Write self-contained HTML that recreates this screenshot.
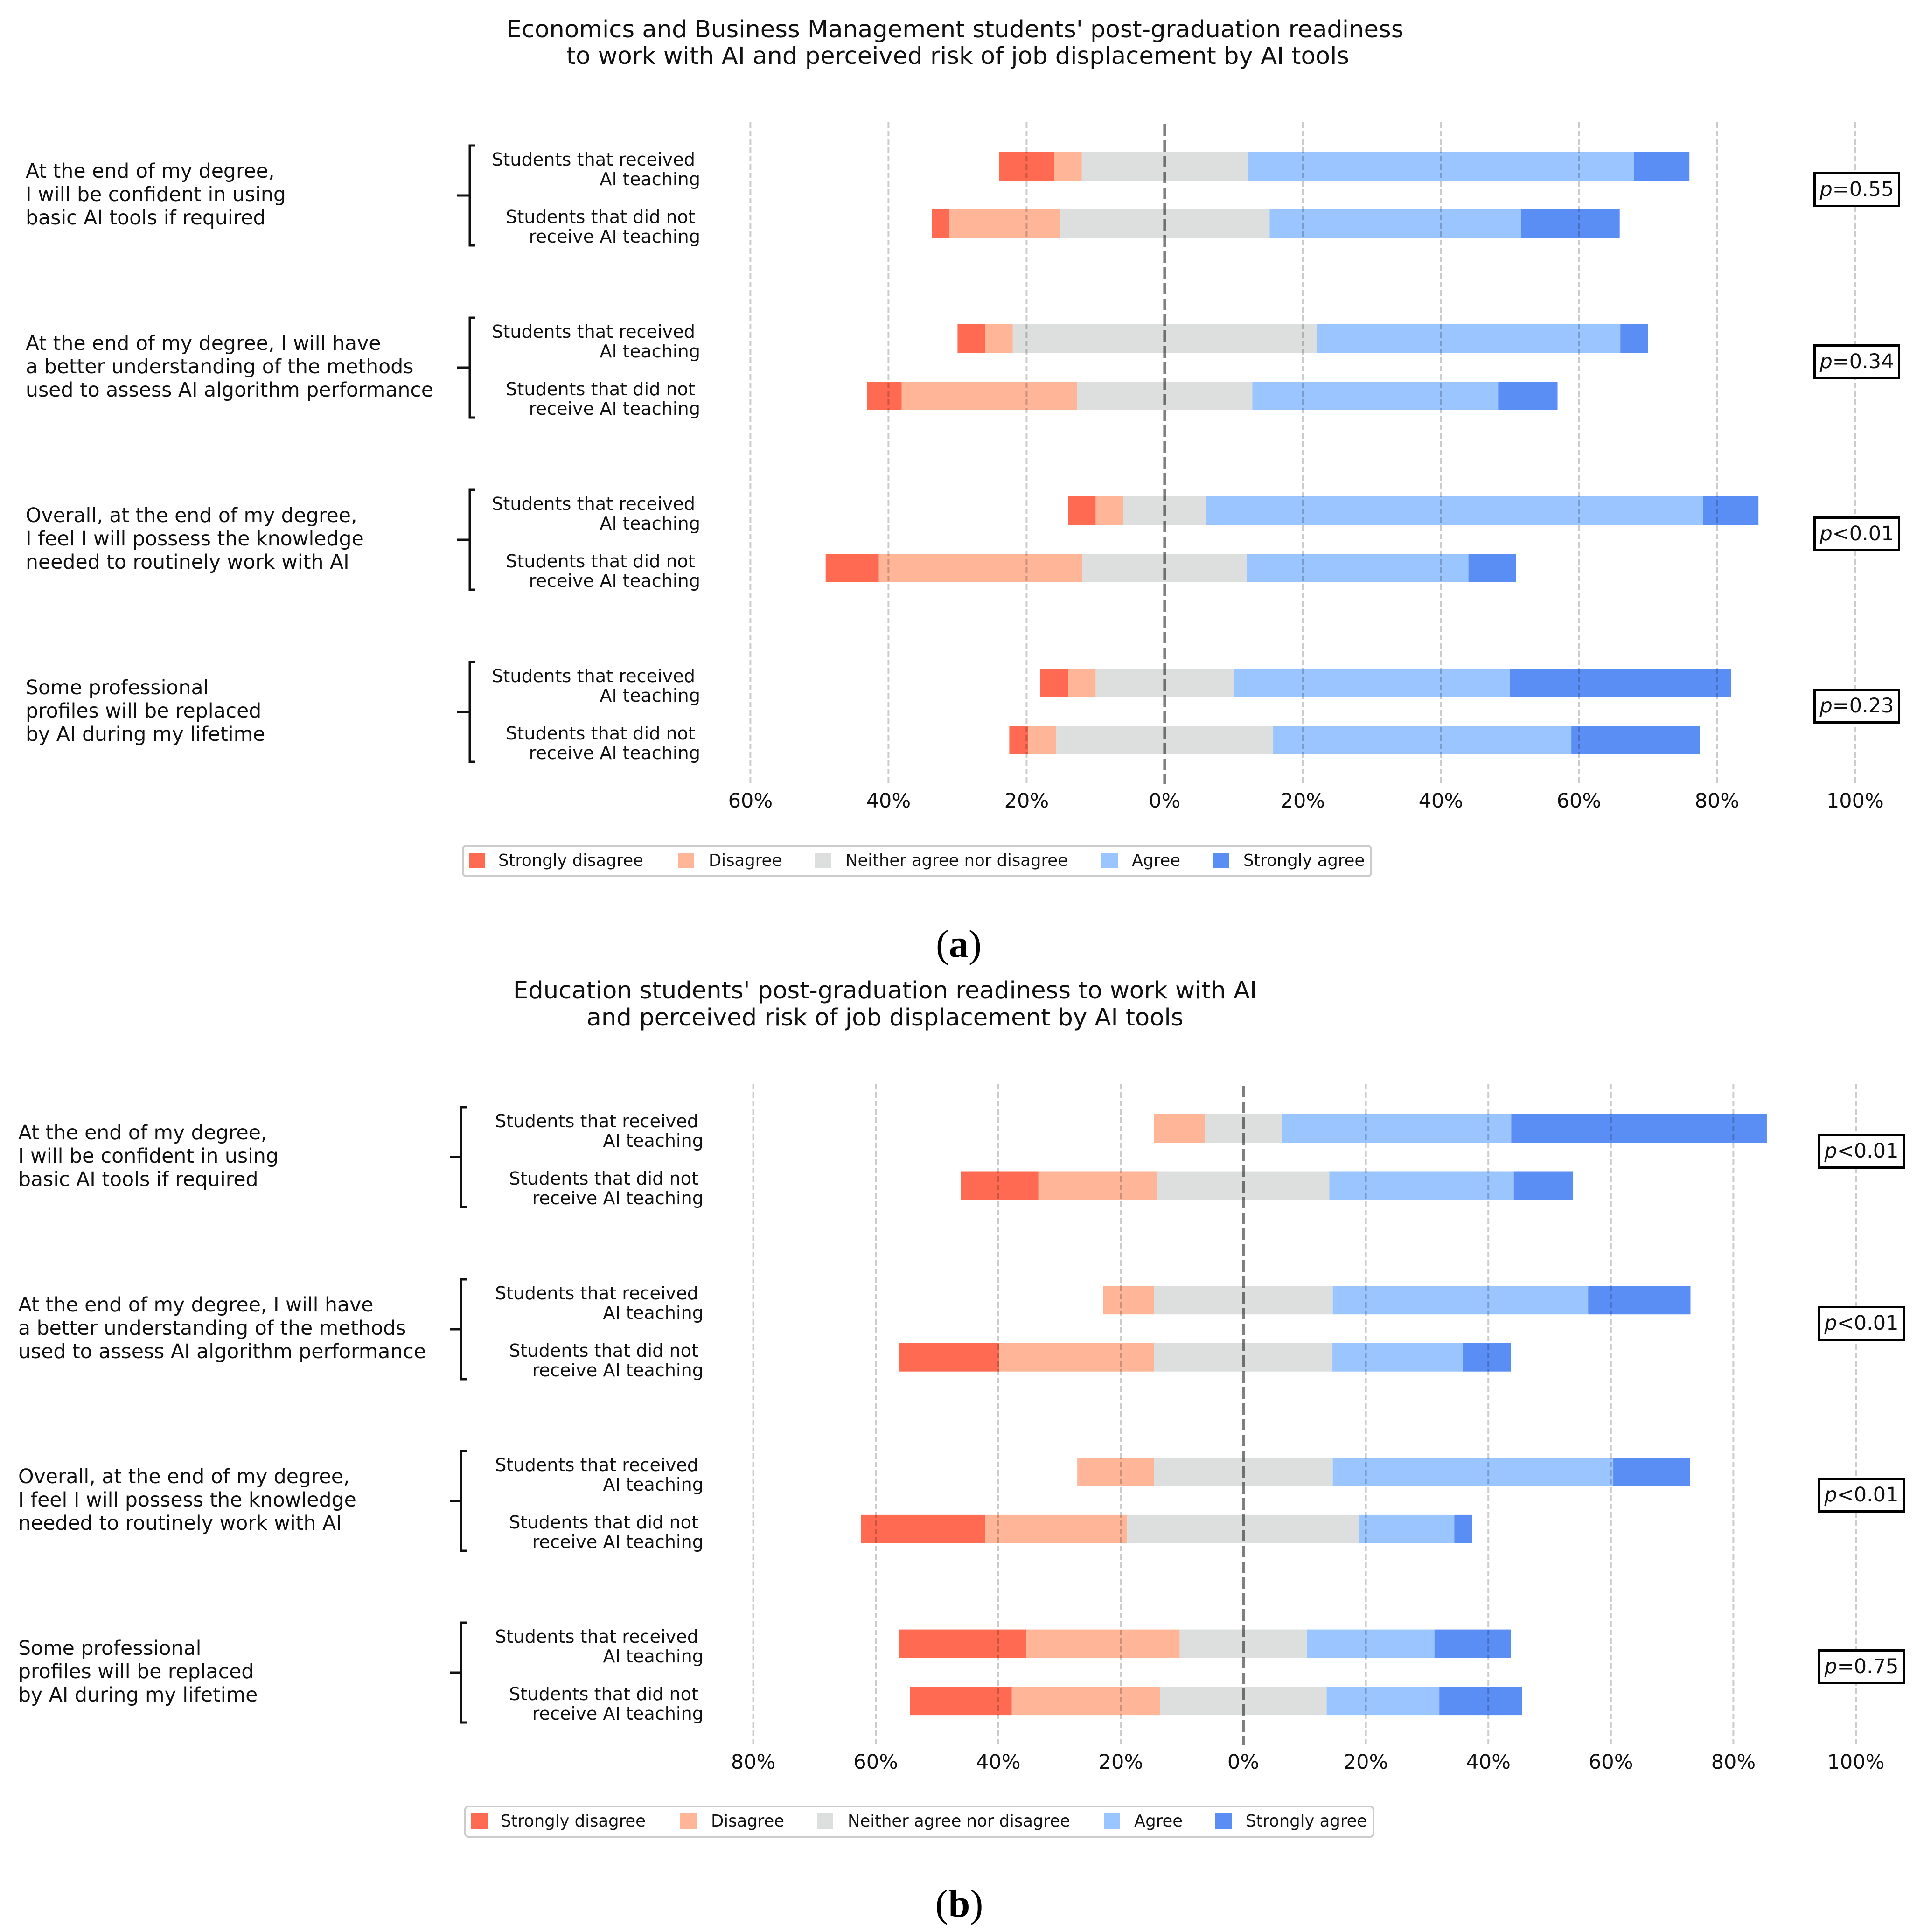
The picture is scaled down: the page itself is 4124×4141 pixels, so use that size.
<!DOCTYPE html>
<html lang="en">
<head>
<meta charset="utf-8">
<title>Post-graduation readiness to work with AI</title>
<style>
html,body{margin:0;padding:0;background:#fff}
svg{display:block}
text{font-family:"DejaVu Sans","Liberation Sans",sans-serif;fill:#111}
.q{font-size:42.6px}
.s{font-size:38.2px;text-anchor:end}
.t{font-size:51.2px;text-anchor:middle}
.l{font-size:35.4px}
.p{font-size:43px;text-anchor:middle}
.c{font-family:"Liberation Serif",serif;font-size:84px;text-anchor:middle;fill:#000}
.box{fill:#fff;stroke:#000;stroke-width:5}
.br{fill:none;stroke:#111;stroke-width:5}
.leg{fill:#fff;stroke:#ccc;stroke-width:4}
</style>
</head>
<body>
<svg xmlns="http://www.w3.org/2000/svg" width="4124" height="4141" viewBox="0 0 4124 4141">
<rect width="4124" height="4141" fill="#fff"/>

<!-- PANEL A -->
<g>
<text class="t" x="2047" y="80">Economics and Business Management students' post-graduation readiness</text>
<text class="t" x="2053" y="137">to work with AI and perceived risk of job displacement by AI tools</text>
<g id="plot-a"></g>
<g>
<text class="q" x="55" y="381">At the end of my degree,</text>
<text class="q" x="55" y="431">I will be confident in using</text>
<text class="q" x="55" y="481">basic AI tools if required</text>
<path class="br" d="M1019 312H1007V526H1019M980 419H1007"/>
<text class="s" x="1490" y="355">Students that received</text>
<text class="s" x="1501" y="397">AI teaching</text>
<text class="s" x="1490" y="478">Students that did not</text>
<text class="s" x="1501" y="520">receive AI teaching</text>
<rect class="box" x="3889.5" y="371.5" width="181" height="70"/>
<text class="p" x="3980" y="420"><tspan font-style="italic">p</tspan>=0.55</text>
</g>
<g transform="translate(0,369)">
<text class="q" x="55" y="381">At the end of my degree, I will have</text>
<text class="q" x="55" y="431">a better understanding of the methods</text>
<text class="q" x="55" y="481">used to assess AI algorithm performance</text>
<path class="br" d="M1019 312H1007V526H1019M980 419H1007"/>
<text class="s" x="1490" y="355">Students that received</text>
<text class="s" x="1501" y="397">AI teaching</text>
<text class="s" x="1490" y="478">Students that did not</text>
<text class="s" x="1501" y="520">receive AI teaching</text>
<rect class="box" x="3889.5" y="371.5" width="181" height="70"/>
<text class="p" x="3980" y="420"><tspan font-style="italic">p</tspan>=0.34</text>
</g>
<g transform="translate(0,738)">
<text class="q" x="55" y="381">Overall, at the end of my degree,</text>
<text class="q" x="55" y="431">I feel I will possess the knowledge</text>
<text class="q" x="55" y="481">needed to routinely work with AI</text>
<path class="br" d="M1019 312H1007V526H1019M980 419H1007"/>
<text class="s" x="1490" y="355">Students that received</text>
<text class="s" x="1501" y="397">AI teaching</text>
<text class="s" x="1490" y="478">Students that did not</text>
<text class="s" x="1501" y="520">receive AI teaching</text>
<rect class="box" x="3889.5" y="371.5" width="181" height="70"/>
<text class="p" x="3980" y="420"><tspan font-style="italic">p</tspan>&lt;0.01</text>
</g>
<g transform="translate(0,1107)">
<text class="q" x="55" y="381">Some professional</text>
<text class="q" x="55" y="431">profiles will be replaced</text>
<text class="q" x="55" y="481">by AI during my lifetime</text>
<path class="br" d="M1019 312H1007V526H1019M980 419H1007"/>
<text class="s" x="1490" y="355">Students that received</text>
<text class="s" x="1501" y="397">AI teaching</text>
<text class="s" x="1490" y="478">Students that did not</text>
<text class="s" x="1501" y="520">receive AI teaching</text>
<rect class="box" x="3889.5" y="371.5" width="181" height="70"/>
<text class="p" x="3980" y="420"><tspan font-style="italic">p</tspan>=0.23</text>
</g>
<g>
<rect class="leg" x="992" y="1813" width="1947" height="65" rx="7"/>
<rect x="1005" y="1828" width="35" height="33" fill="#ff6b52"/>
<text class="l" x="1068" y="1856">Strongly disagree</text>
<rect x="1453" y="1828" width="35" height="33" fill="#ffb598"/>
<text class="l" x="1519" y="1856">Disagree</text>
<rect x="1746" y="1828" width="35" height="33" fill="#dcdfde"/>
<text class="l" x="1812" y="1856">Neither agree nor disagree</text>
<rect x="2361" y="1828" width="35" height="33" fill="#9ac5ff"/>
<text class="l" x="2426" y="1856">Agree</text>
<rect x="2600" y="1828" width="35" height="33" fill="#5a8ef5"/>
<text class="l" x="2665" y="1856">Strongly agree</text>
</g>
<text class="c" x="2055" y="2051">(<tspan font-weight="bold">a</tspan>)</text>
</g>

<!-- PANEL B -->
<g>
<text class="t" x="1897" y="2140">Education students' post-graduation readiness to work with AI</text>
<text class="t" x="1897" y="2198">and perceived risk of job displacement by AI tools</text>
<g id="plot-b"></g>
<g transform="translate(0,2061)">
<text class="q" x="39" y="381">At the end of my degree,</text>
<text class="q" x="39" y="431">I will be confident in using</text>
<text class="q" x="39" y="481">basic AI tools if required</text>
<path class="br" d="M1000 312H988V526H1000M964 419H988"/>
<text class="s" x="1497" y="355">Students that received</text>
<text class="s" x="1508" y="397">AI teaching</text>
<text class="s" x="1497" y="478">Students that did not</text>
<text class="s" x="1508" y="520">receive AI teaching</text>
<rect class="box" x="3899.5" y="371.5" width="181" height="70"/>
<text class="p" x="3990" y="420"><tspan font-style="italic">p</tspan>&lt;0.01</text>
</g>
<g transform="translate(0,2430)">
<text class="q" x="39" y="381">At the end of my degree, I will have</text>
<text class="q" x="39" y="431">a better understanding of the methods</text>
<text class="q" x="39" y="481">used to assess AI algorithm performance</text>
<path class="br" d="M1000 312H988V526H1000M964 419H988"/>
<text class="s" x="1497" y="355">Students that received</text>
<text class="s" x="1508" y="397">AI teaching</text>
<text class="s" x="1497" y="478">Students that did not</text>
<text class="s" x="1508" y="520">receive AI teaching</text>
<rect class="box" x="3899.5" y="371.5" width="181" height="70"/>
<text class="p" x="3990" y="420"><tspan font-style="italic">p</tspan>&lt;0.01</text>
</g>
<g transform="translate(0,2798)">
<text class="q" x="39" y="381">Overall, at the end of my degree,</text>
<text class="q" x="39" y="431">I feel I will possess the knowledge</text>
<text class="q" x="39" y="481">needed to routinely work with AI</text>
<path class="br" d="M1000 312H988V526H1000M964 419H988"/>
<text class="s" x="1497" y="355">Students that received</text>
<text class="s" x="1508" y="397">AI teaching</text>
<text class="s" x="1497" y="478">Students that did not</text>
<text class="s" x="1508" y="520">receive AI teaching</text>
<rect class="box" x="3899.5" y="371.5" width="181" height="70"/>
<text class="p" x="3990" y="420"><tspan font-style="italic">p</tspan>&lt;0.01</text>
</g>
<g transform="translate(0,3166)">
<text class="q" x="39" y="381">Some professional</text>
<text class="q" x="39" y="431">profiles will be replaced</text>
<text class="q" x="39" y="481">by AI during my lifetime</text>
<path class="br" d="M1000 312H988V526H1000M964 419H988"/>
<text class="s" x="1497" y="355">Students that received</text>
<text class="s" x="1508" y="397">AI teaching</text>
<text class="s" x="1497" y="478">Students that did not</text>
<text class="s" x="1508" y="520">receive AI teaching</text>
<rect class="box" x="3899.5" y="371.5" width="181" height="70"/>
<text class="p" x="3990" y="420"><tspan font-style="italic">p</tspan>=0.75</text>
</g>
<g transform="translate(5,2059)">
<rect class="leg" x="992" y="1813" width="1947" height="65" rx="7"/>
<rect x="1005" y="1828" width="35" height="33" fill="#ff6b52"/>
<text class="l" x="1068" y="1856">Strongly disagree</text>
<rect x="1453" y="1828" width="35" height="33" fill="#ffb598"/>
<text class="l" x="1519" y="1856">Disagree</text>
<rect x="1746" y="1828" width="35" height="33" fill="#dcdfde"/>
<text class="l" x="1812" y="1856">Neither agree nor disagree</text>
<rect x="2361" y="1828" width="35" height="33" fill="#9ac5ff"/>
<text class="l" x="2426" y="1856">Agree</text>
<rect x="2600" y="1828" width="35" height="33" fill="#5a8ef5"/>
<text class="l" x="2665" y="1856">Strongly agree</text>
</g>
<text class="c" x="2056" y="4108">(<tspan font-weight="bold">b</tspan>)</text>
</g>
</svg>
<script>
// Panel (a) values, percent of respondents; rows run top to bottom
const stronglyDisagreeA = [8, 2.5, 4, 5, 4, 7.7, 4, 2.7];
const disagreeA = [4, 16, 4, 25.4, 4, 29.5, 4, 4.1];
const neutralA = [24, 30.4, 44, 25.4, 12, 23.8, 20, 31.4];
const agreeA = [56, 36.4, 44, 35.6, 72, 32.1, 40, 43.2];
const stronglyAgreeA = [8, 14.3, 4, 8.6, 8, 6.9, 32, 18.6];
const ticksA = [-60, -40, -20, 0, 20, 40, 60, 80, 100];

// Panel (b) values
const stronglyDisagreeB = [0, 12.7, 0, 16.4, 0, 20.3, 20.8, 16.6];
const disagreeB = [8.3, 19.4, 8.3, 25.3, 12.5, 23.2, 25, 24.2];
const neutralB = [12.5, 28.1, 29.2, 29.1, 29.2, 37.9, 20.8, 27.2];
const agreeB = [37.5, 30.1, 41.7, 21.3, 45.8, 15.5, 20.8, 18.4];
const stronglyAgreeB = [41.7, 9.7, 16.7, 7.8, 12.5, 2.9, 12.5, 13.5];
const ticksB = [-80, -60, -40, -20, 0, 20, 40, 60, 80, 100];

const SVGNS = 'http://www.w3.org/2000/svg';
const segmentColors = ['#ff6b52', '#ffb598', '#dcdfde', '#9ac5ff', '#5a8ef5'];
const segmentNames = ['strongly-disagree', 'disagree', 'neutral', 'agree', 'strongly-agree'];

function mk(tag, attrs, parent) {
  const el = document.createElementNS(SVGNS, tag);
  for (const k in attrs) el.setAttribute(k, attrs[k]);
  parent.appendChild(el);
  return el;
}

function drawPanel(cfg) {
  const g = document.getElementById(cfg.id);
  const xScale = function (pct) { return cfg.zeroX + pct * cfg.pxPerPct; };
  const yScale = function (row) {
    const group = Math.floor(row / 2);
    return cfg.firstY + group * cfg.groupGap + (row % 2) * cfg.rowGap;
  };
  const rowCount = cfg.series[0].length;
  for (let r = 0; r < rowCount; r++) {
    const sd = cfg.series[0][r], d = cfg.series[1][r], n = cfg.series[2][r];
    let start = -(sd + d + n / 2);
    for (let s = 0; s < cfg.series.length; s++) {
      const v = cfg.series[s][r];
      if (v > 0) {
        const bar = mk('rect', {
          x: xScale(start),
          y: yScale(r) - cfg.barH / 2,
          width: xScale(start + v) - xScale(start),
          height: cfg.barH,
          fill: segmentColors[s]
        }, g);
        
        
      }
      start += v;
    }
  }
  cfg.ticks.forEach(function (t) {
    const x = xScale(t);
    if (t !== 0) {
      const line = mk('line', {
        x1: x, x2: x, y1: cfg.gridTop, y2: cfg.gridBottom,
        stroke: '#000', 'stroke-opacity': '0.2', 'stroke-width': 4, 'stroke-dasharray': '12 6'
      }, g);
      
      
    }
    const label = mk('text', {
      x: x, y: cfg.tickY, 'text-anchor': 'middle', 'font-size': 43
    }, g);
    label.textContent = Math.abs(t) + '%';
    
    
  });
  const zero = mk('line', {
    x1: xScale(0), x2: xScale(0), y1: cfg.zeroTop, y2: cfg.gridBottom,
    stroke: '#000', 'stroke-opacity': '0.5', 'stroke-width': 6, 'stroke-dasharray': '25 9'
  }, g);
  
  
}

drawPanel({
  id: 'plot-a', zeroX: 2496.4, pxPerPct: 14.8, firstY: 356.5, rowGap: 123, groupGap: 369, barH: 61,
  gridTop: 262, zeroTop: 266, gridBottom: 1681, tickY: 1731, ticks: ticksA,
  series: [stronglyDisagreeA, disagreeA, neutralA, agreeA, stronglyAgreeA]
});
drawPanel({
  id: 'plot-b', zeroX: 2665, pxPerPct: 13.13, firstY: 2418.5, rowGap: 122.5, groupGap: 368.2, barH: 61,
  gridTop: 2323, zeroTop: 2327, gridBottom: 3741, tickY: 3791, ticks: ticksB,
  series: [stronglyDisagreeB, disagreeB, neutralB, agreeB, stronglyAgreeB]
});
</script>
</body>
</html>
